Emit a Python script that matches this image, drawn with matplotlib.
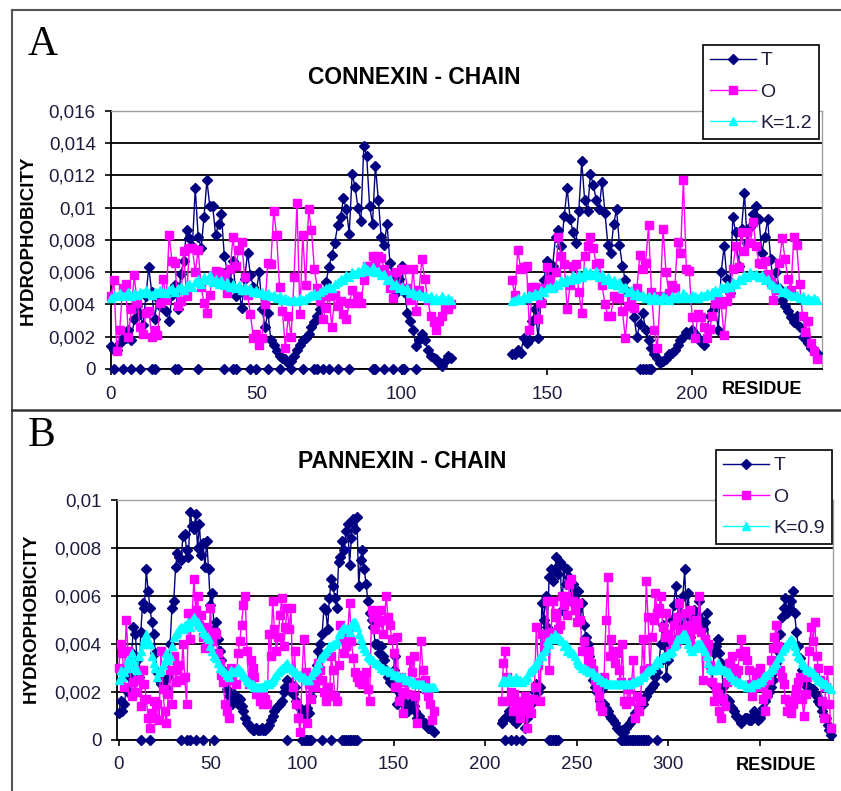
import numpy as np
import matplotlib
matplotlib.use("Agg")
import matplotlib.pyplot as plt
from matplotlib.lines import Line2D

plt.rcParams['font.family'] = ['Liberation Sans', 'DejaVu Sans']

# ---------------- DATA (hydrophobicity values in units of 1e-3) ----------------
# Panel A: CONNEXIN - CHAIN
A_seg1_start = 0
A_T1 = [1.4,1.2,1.2,1.6,1.9,1.9,2.4,1.8,3.1,3.9,3.4,2.7,4.5,6.3,4.8,3.1,4.4,3.9,4.2,3.6,
        3.0,4.6,5.2,3.7,5.9,6.7,8.6,8.1,7.6,11.2,8.2,7.5,9.4,11.7,10.1,10.1,8.3,9.0,9.6,7.0,
        6.1,5.4,6.7,4.5,4.9,3.8,5.6,7.2,5.8,5.1,4.8,6.0,3.7,2.6,3.5,1.8,1.5,1.1,0.8,0.7,
        0.6,0.4,0.5,0.8,1.2,1.5,1.8,1.9,2.2,2.6,2.9,3.3,3.7,4.6,5.4,6.3,7.1,7.8,8.9,9.4,
        10.6,9.9,8.4,12.1,11.3,10.0,9.2,13.8,13.2,10.1,9.0,12.6,10.5,8.2,7.7,9.0,6.6,5.6,4.7,5.6,
        6.4,4.8,3.5,3.0,2.4,1.4,1.8,2.2,1.8,1.2,0.8,0.7,0.6,0.4,0.2,0.5,0.8,0.7]
A_O1 = [4.5,5.5,1.1,2.4,5.0,5.3,2.0,3.7,5.8,4.1,2.6,2.2,3.5,3.6,2.0,2.4,2.1,4.1,5.6,4.3,
        8.3,6.7,6.6,3.9,4.2,7.3,4.5,7.5,7.5,6.0,7.4,5.1,4.1,3.5,4.6,5.8,6.1,6.0,5.5,5.9,
        4.7,6.2,8.2,6.4,7.4,7.9,5.7,4.6,3.4,1.9,2.2,1.5,1.9,4.0,6.6,6.5,9.8,8.3,5.1,3.6,
        1.3,3.3,2.0,5.7,10.3,3.4,8.3,5.2,9.9,8.6,6.2,5.0,4.2,3.1,3.8,4.5,2.6,4.6,3.9,4.2,
        3.4,3.1,4.1,4.9,4.1,4.5,4.1,5.5,6.4,6.1,7.0,6.6,7.0,6.9,6.2,5.8,5.0,4.4,6.0,5.1,
        6.2,6.2,5.0,4.3,6.2,3.6,4.9,6.8,5.6,4.3,3.3,2.9,2.4,3.0,3.3,3.7,3.7,4.0]
A_K1 = [4.4,4.6,4.5,4.7,4.5,4.6,4.8,4.5,4.7,4.6,4.8,4.7,4.9,4.7,4.6,4.8,4.7,4.9,4.8,4.7,
        4.9,5.0,4.8,5.0,5.1,4.9,5.2,5.3,5.1,5.4,5.6,5.3,5.7,5.5,5.8,5.4,5.6,5.3,5.5,5.2,
        5.4,5.1,5.3,5.0,5.2,4.9,5.1,4.9,5.0,4.8,4.9,4.7,4.8,4.6,4.7,4.5,4.6,4.4,4.5,4.3,
        4.4,4.3,4.2,4.3,4.2,4.4,4.3,4.4,4.5,4.6,4.7,4.6,4.8,4.9,5.0,5.1,5.0,5.3,5.4,5.6,
        5.5,5.8,5.7,6.0,5.9,6.1,6.0,6.4,6.2,6.1,6.3,6.0,6.1,5.8,5.9,5.5,5.6,5.2,5.3,5.0,
        5.1,4.9,5.0,4.7,4.8,4.6,4.7,4.5,4.6,4.4,4.5,4.3,4.4,4.3,4.5,4.3,4.4,4.3]
A_seg2_start = 138
A_T2 = [0.9,0.9,1.2,1.0,1.9,1.6,1.8,3.0,3.7,1.9,4.2,5.5,6.7,5.8,6.4,8.2,8.6,7.6,9.5,11.2,
        9.3,8.5,7.8,9.8,12.9,10.5,9.8,12.1,11.4,10.5,9.9,11.6,9.7,7.7,7.2,9.0,9.9,7.7,6.4,5.5,
        4.8,3.9,3.2,2.0,2.8,3.5,2.4,1.8,1.3,0.9,0.7,0.4,0.5,0.6,0.9,1.0,1.2,1.5,1.8,2.0,
        2.3,2.2,2.4,2.2,1.9,1.7,1.5,2.5,3.3,3.6,3.9,2.4,6.0,7.6,5.6,4.7,9.4,8.5,6.4,8.7,
        10.9,7.8,8.8,9.6,10.1,9.3,7.2,8.2,9.3,6.8,5.3,6.0,5.0,4.3,3.9,3.6,3.2,2.9,3.3,2.6,
        2.0,1.9,1.6,1.3,1.2,1.0]
A_O2 = [5.5,4.6,7.4,6.2,6.3,6.4,2.4,5.1,5.1,3.1,4.1,5.0,6.3,5.6,5.1,6.0,8.2,7.0,6.5,3.7,
        5.2,6.4,6.5,4.8,3.5,7.0,7.6,8.2,7.5,6.5,6.6,5.2,4.0,3.3,3.3,4.5,4.4,4.4,3.6,1.9,
        3.9,4.2,3.8,5.0,7.1,6.2,6.6,8.9,4.8,2.4,1.3,4.5,8.7,6.0,4.7,5.2,5.0,7.9,7.2,11.7,
        6.2,6.1,3.2,1.9,3.4,3.2,2.6,1.9,2.5,3.3,4.1,4.3,4.0,2.1,4.2,4.7,6.2,7.6,6.3,8.5,
        7.3,8.5,7.8,9.1,7.6,6.6,6.5,6.7,5.9,5.4,4.3,4.9,6.6,8.1,6.8,5.6,4.9,8.2,7.7,5.3,
        3.3,2.3,3.0,1.6,1.1,0.6]
A_K2 = [4.2,4.3,4.4,4.3,4.5,4.4,4.6,4.5,4.7,4.6,4.9,4.8,5.0,5.1,5.0,5.3,5.2,5.5,5.4,5.6,
        5.5,5.8,5.6,5.9,5.7,6.1,5.8,6.0,5.8,6.1,5.7,5.9,5.5,5.7,5.3,5.5,5.2,5.4,5.0,5.1,
        4.8,4.9,4.6,4.7,4.5,4.6,4.4,4.5,4.3,4.5,4.4,4.3,4.5,4.4,4.3,4.5,4.4,4.6,4.4,4.7,
        4.5,4.4,4.6,4.5,4.4,4.6,4.5,4.7,4.6,4.8,4.9,4.8,5.1,5.0,5.2,5.1,5.4,5.3,5.6,5.5,
        5.8,5.7,6.0,5.8,5.9,5.7,5.8,5.5,5.6,5.3,5.2,5.0,5.1,4.8,4.9,4.7,4.6,4.5,4.6,4.4,
        4.5,4.3,4.4,4.3,4.4,4.3]
A_T_zero_res = [1,4,7,10,14,15,22,23,30,39,42,43,48,50,54,58,62,66,70,71,73,75,78,82,
                90,91,94,97,100,101,105,182,183,184,185,186]

# Panel B: PANNEXIN - CHAIN
B_seg1_start = 0
B_T1 = [1.1,1.6,1.2,1.5,2.1,2.0,2.6,3.6,4.7,4.4,3.3,2.6,4.5,5.7,5.5,7.1,6.2,5.5,4.9,4.4,
        3.6,2.8,2.5,2.3,2.4,2.2,2.1,2.6,4.0,5.5,5.8,7.2,7.8,7.6,7.5,8.5,8.6,7.9,7.6,9.5,
        8.9,8.8,9.4,8.0,9.0,7.7,8.2,7.2,8.3,7.1,5.6,6.1,4.6,4.9,4.2,3.7,3.3,2.9,2.5,2.1,
        1.8,1.6,1.5,1.9,1.8,1.5,1.7,1.4,1.2,0.9,0.7,0.6,0.5,0.4,0.4,0.5,0.4,0.4,0.5,0.4,
        0.4,0.5,0.6,0.8,1.0,1.2,1.3,1.4,1.5,1.6,2.0,2.2,2.5,2.4,2.3,1.9,2.2,1.6,1.4,1.3,
        1.2,1.0,1.1,1.3,1.1,1.8,2.2,2.6,3.1,3.7,4.0,4.4,5.5,5.4,4.6,5.9,6.7,6.4,5.9,5.5,
        7.4,7.6,8.3,7.9,8.7,9.0,7.3,8.4,9.2,8.8,9.3,6.4,7.5,7.9,7.1,6.5,5.8,5.3,5.0,4.7,
        4.0,4.0,3.6,3.9,3.5,3.3,2.9,2.6,2.4,2.3,2.9,3.5,1.5,2.0,1.8,1.6,1.5,1.3,1.2,1.4,
        1.6,1.4,1.2,0.9,1.0,0.8,0.7,0.7,0.6,0.5,0.5,0.4,0.3]
B_O1 = [3.0,4.0,3.6,2.2,5.0,3.7,3.1,1.8,2.4,2.0,2.5,2.9,1.4,2.9,2.3,1.7,0.9,0.5,1.1,1.6,
        0.9,1.5,0.8,3.7,2.1,1.2,0.7,1.9,2.9,1.5,3.5,2.4,2.9,3.1,2.5,4.0,2.6,1.5,5.3,4.2,
        5.1,6.7,5.4,6.0,4.8,5.2,4.3,3.8,4.7,3.9,5.5,4.1,4.5,4.4,3.6,3.2,2.7,2.4,1.5,1.2,
        0.9,3.0,2.5,2.9,2.3,3.6,4.1,4.8,5.6,6.0,3.7,2.3,3.3,3.0,2.6,1.9,2.1,1.6,1.8,1.5,
        1.7,1.5,4.4,3.5,5.8,4.6,3.7,4.3,5.2,5.9,3.9,4.7,5.5,4.6,5.5,2.2,3.7,1.5,0.9,0.3,
        2.6,4.2,2.8,0.7,2.3,1.7,2.4,2.2,2.8,3.2,2.9,2.5,2.0,1.6,2.2,1.8,3.5,2.9,1.8,1.6,
        3.1,4.8,4.2,3.6,3.9,4.5,5.7,4.1,3.4,2.8,2.6,2.4,2.7,2.3,2.5,2.8,2.1,1.6,5.4,5.1,
        4.6,5.3,4.9,5.4,4.4,5.0,6.0,5.1,4.8,4.2,3.6,2.2,4.3,1.6,2.6,1.1,2.0,2.4,1.9,3.3,
        2.8,3.5,1.8,0.7,2.4,4.1,2.9,2.5,2.1,1.8,1.5,0.8,1.2]
B_K1 = [2.5,2.9,2.6,2.8,3.0,3.3,3.1,3.6,3.3,3.0,2.9,3.5,3.7,4.0,4.2,4.4,4.1,4.0,3.5,3.2,
        3.0,2.6,2.8,2.9,3.1,3.3,3.6,3.3,3.5,3.9,4.3,4.4,4.5,4.6,4.7,4.6,4.8,4.8,4.9,4.7,
        5.0,5.1,4.9,4.9,4.8,4.7,4.5,4.4,4.3,4.2,3.9,3.7,3.5,3.4,3.2,3.0,3.0,2.9,2.8,2.7,
        2.6,2.9,2.8,2.8,2.9,3.0,2.9,2.8,2.7,2.6,2.5,2.4,2.3,2.3,2.2,2.2,2.2,2.2,2.2,2.2,
        2.3,2.3,2.3,2.4,2.5,2.6,2.7,2.8,2.9,3.0,3.0,3.1,3.2,3.0,3.0,2.9,2.8,2.8,2.7,2.7,
        2.6,2.6,2.5,2.5,2.5,2.7,2.8,2.9,3.0,3.2,3.4,3.5,3.6,3.7,3.8,3.9,3.9,4.0,4.0,4.1,
        4.4,4.5,4.6,4.7,4.6,4.6,4.5,4.8,4.9,4.9,4.7,4.4,4.2,4.0,3.8,3.7,3.5,3.4,3.3,3.3,
        3.2,3.2,3.1,3.0,3.0,2.9,2.9,2.9,2.8,2.8,2.7,2.7,2.7,2.6,2.6,2.6,2.6,2.5,2.5,2.5,
        2.4,2.4,2.3,2.3,2.3,2.3,2.3,2.2,2.2,2.2,2.2,2.2,2.2]
B_seg2_start = 209
B_T2 = [0.7,0.8,0.9,1.0,1.2,1.0,0.8,0.9,0.7,1.1,1.4,1.3,1.2,0.5,0.9,1.4,1.5,1.6,2.0,2.3,
        2.0,2.2,5.7,5.0,6.0,4.7,6.8,7.1,6.6,7.1,7.6,6.9,7.4,5.4,7.2,6.5,7.1,6.8,5.8,6.5,
        6.1,5.4,6.2,5.0,5.7,4.8,4.3,4.0,3.5,2.8,2.5,2.2,2.0,2.1,1.6,2.1,1.5,1.3,1.2,1.0,
        0.9,0.8,0.7,0.5,0.4,0.3,0.4,0.3,0.5,0.6,0.7,0.8,0.9,1.1,1.2,1.4,1.5,1.5,1.7,1.8,
        2.0,2.1,2.2,2.3,2.6,2.8,3.2,4.0,4.8,3.9,2.6,3.3,4.2,5.0,5.6,6.4,5.7,4.9,5.3,6.0,
        7.1,5.1,6.1,4.3,4.9,5.4,4.7,5.2,5.8,5.0,4.6,4.9,5.3,4.0,3.1,2.3,3.6,3.9,4.2,3.6,
        3.2,2.2,1.5,1.7,1.6,1.4,1.3,1.2,1.0,0.9,0.8,0.7,0.8,0.9,0.9,0.8,0.8,1.0,1.2,1.0,
        0.8,0.9,1.1,1.3,1.6,1.8,2.0,2.2,2.5,2.8,3.2,3.7,4.4,5.1,5.5,5.9,5.3,5.5,5.8,6.2,
        5.3,4.5,3.9,3.4,2.9,2.6,2.3,2.2,2.2,2.1,2.1,1.9,1.8,1.6,1.5,1.2,1.0,0.9,0.6,0.4,
        0.2]
B_O2 = [1.6,3.2,3.7,2.6,1.6,2.0,1.2,1.9,1.6,1.3,0.9,1.2,1.5,1.8,0.5,1.4,1.1,1.7,2.2,4.7,
        3.1,1.6,4.4,3.9,4.4,5.8,2.9,4.5,5.8,5.3,5.1,4.6,4.8,6.0,5.6,6.0,5.2,6.5,6.7,5.8,
        5.4,4.9,5.7,5.0,3.7,4.1,3.7,3.3,3.7,3.2,2.9,2.5,2.2,1.8,1.4,1.2,2.6,5.0,6.8,3.5,
        4.2,3.7,3.2,3.6,2.9,2.4,4.0,1.6,1.5,2.1,1.6,2.4,3.3,0.9,1.8,1.2,1.6,4.2,2.9,6.6,
        5.1,3.0,4.3,5.0,6.1,5.3,5.5,6.0,4.7,4.3,5.3,4.4,3.7,4.2,4.8,4.0,5.1,5.7,4.4,4.6,
        5.3,4.8,4.3,5.4,4.6,3.9,5.0,4.6,6.0,4.5,2.5,4.2,3.7,4.0,3.1,2.4,1.6,2.2,1.9,1.2,
        0.9,1.7,1.4,2.4,3.2,3.2,3.5,3.0,2.6,2.9,3.6,4.2,3.5,3.7,3.3,2.9,2.3,1.8,2.2,2.6,
        2.8,3.0,2.2,1.7,1.2,1.9,2.5,3.3,3.8,4.3,4.8,3.9,2.9,2.6,2.3,1.7,1.2,1.6,1.1,1.5,
        1.8,2.1,2.4,2.6,1.7,1.0,1.9,2.6,3.7,4.7,4.1,4.9,3.5,3.0,2.5,1.6,0.9,2.2,2.9,1.5,
        0.5]
B_K2 = [2.4,2.5,2.5,2.4,2.6,2.5,2.5,2.4,2.6,2.5,2.5,2.4,2.5,2.5,2.6,2.8,2.9,3.0,3.1,3.2,
        3.3,3.5,3.5,3.7,3.8,4.1,4.0,4.3,4.2,4.4,4.3,4.3,4.2,4.1,3.9,4.0,3.7,3.8,3.6,3.6,
        3.5,3.3,3.2,3.1,3.0,3.0,2.9,2.9,2.8,2.8,2.8,2.7,2.6,2.6,2.5,2.5,2.4,2.4,2.3,2.3,
        2.3,2.3,2.3,2.3,2.3,2.3,2.3,2.3,2.3,2.3,2.3,2.4,2.4,2.4,2.5,2.5,2.6,2.6,2.7,2.8,
        2.9,2.9,3.0,3.1,3.2,3.3,3.2,3.4,3.5,3.5,3.5,3.6,3.6,3.7,3.9,4.0,4.2,4.2,4.3,4.4,
        4.4,4.2,4.0,3.8,3.7,3.8,3.9,4.0,4.0,4.0,3.8,3.7,3.5,3.2,3.0,2.9,2.9,3.0,3.2,3.1,
        3.0,2.9,2.9,2.8,2.8,2.7,2.6,2.5,2.5,2.4,2.4,2.3,2.3,2.3,2.2,2.2,2.2,2.3,2.3,2.3,
        2.4,2.4,2.5,2.6,2.7,2.7,2.8,2.9,3.0,3.1,3.2,3.4,3.5,3.7,3.8,3.9,4.0,4.1,4.2,4.1,
        3.9,3.7,3.5,3.4,3.2,3.1,3.0,2.9,2.9,2.8,2.8,2.7,2.6,2.5,2.5,2.4,2.3,2.3,2.2,2.2,
        2.1]
B_T_zero_res = [12,17,34,37,39,42,46,52,92,100,101,102,103,104,105,111,116,122,123,124,125,
                126,127,128,129,130,211,214,217,220,235,236,237,238,239,240,274,275,276,277,
                278,279,280,281,282,283,284,285,286,287,288,289,294]

UNIT = 1e-3
A_yticks = [0, 0.002, 0.004, 0.006, 0.008, 0.01, 0.012, 0.014, 0.016]
A_ylabels = ["0", "0,002", "0,004", "0,006", "0,008", "0,01", "0,012", "0,014", "0,016"]
B_yticks = [0, 0.002, 0.004, 0.006, 0.008, 0.01]
B_ylabels = ["0", "0,002", "0,004", "0,006", "0,008", "0,01"]
A_xticks = [0, 50, 100, 150, 200]
A_xlabels = ["0", "50", "100", "150", "200"]
B_xticks = [0, 50, 100, 150, 200, 250, 300, 350]
B_xlabels = ["0", "50", "100", "150", "200", "250", "300", ""]

# ---------------- STYLE ----------------
W, H = 841, 791
NAVY = "#000080"
MAG = "#FF00FF"
CYAN = "#00FFFF"
TXT = "#1c1c3c"

fig = plt.figure(figsize=(W / 100, H / 100), dpi=100)


def fx(px):
    return px / W


def fy(py):
    return 1 - py / H


def axes_px(l, t, r, b):
    return fig.add_axes([fx(l), fy(b), (r - l) / W, (b - t) / H])


def draw_panel(ax, segs, zeros, xlim, ylim, yticks, ylabels, xticks, xlabels):
    handles = []
    for key, color, mk, ms in [("T", NAVY, "D", 5.0), ("O", MAG, "s", 5.4), ("K", CYAN, "^", 6.4)]:
        for start, ser in segs[key]:
            xs = np.arange(start, start + len(ser))
            ys = np.asarray(ser) * UNIT
            ln, = ax.plot(xs, ys, color=color, lw=1.0, marker=mk, ms=ms,
                          mec=color, mfc=color, clip_on=False, zorder=3)
        if key == "T":
            ax.plot(zeros, np.zeros(len(zeros)), ls="none", marker="D", ms=5.0,
                    color=NAVY, clip_on=False, zorder=3)
        handles.append(ln)
    ax.set_xlim(*xlim)
    ax.set_ylim(*ylim)
    ax.set_yticks(yticks)
    ax.set_yticklabels(ylabels)
    ax.set_xticks(xticks)
    ax.set_xticklabels(xlabels)
    ax.yaxis.grid(True, color="black", lw=1.3, zorder=1)
    ax.set_axisbelow(True)
    for s in ["top", "right"]:
        ax.spines[s].set_color("#a0a0a0")
        ax.spines[s].set_linewidth(1.0)
    for s in ["left", "bottom"]:
        ax.spines[s].set_color("black")
        ax.spines[s].set_linewidth(1.3)
    ax.tick_params(axis="both", direction="out", length=4, width=1.2, colors="black",
                   labelcolor=TXT, labelsize=13.5)
    ax.tick_params(axis="y", pad=7)
    ax.tick_params(axis="x", pad=8)
    return handles


segsA = {"T": [(A_seg1_start, A_T1), (A_seg2_start, A_T2)],
         "O": [(A_seg1_start, A_O1), (A_seg2_start, A_O2)],
         "K": [(A_seg1_start, A_K1), (A_seg2_start, A_K2)]}
segsB = {"T": [(B_seg1_start, B_T1), (B_seg2_start, B_T2)],
         "O": [(B_seg1_start, B_O1), (B_seg2_start, B_O2)],
         "K": [(B_seg1_start, B_K1), (B_seg2_start, B_K2)]}

axA = axes_px(111, 111, 822, 369)
hA = draw_panel(axA, segsA, A_T_zero_res, (0, 244.7), (0, 0.016),
                A_yticks, A_ylabels, A_xticks, A_xlabels)
axB = axes_px(117, 500, 833, 739.5)
hB = draw_panel(axB, segsB, B_T_zero_res, (-1, 390), (0, 0.01),
                B_yticks, B_ylabels, B_xticks, B_xlabels)

# panel frames
fig.add_artist(Line2D([fx(12), fx(841)], [fy(10), fy(10)], color="#555555", lw=1.5))
fig.add_artist(Line2D([fx(12), fx(12)], [fy(10), fy(791)], color="#555555", lw=1.5))
fig.add_artist(Line2D([fx(12), fx(841)], [fy(410), fy(410)], color="#333333", lw=1.8))

# panel letters and titles
fig.text(fx(28), fy(45), "A", family=["Liberation Serif"], fontsize=30, va="center", ha="left")
fig.text(fx(28), fy(436), "B", family=["Liberation Serif"], fontsize=30, va="center", ha="left")
fig.text(fx(414), fy(77), "CONNEXIN - CHAIN", fontsize=16.5, fontweight="bold", ha="center", va="center")
fig.text(fx(402), fy(462), "PANNEXIN - CHAIN", fontsize=16.5, fontweight="bold", ha="center", va="center")

# axis titles
fig.text(fx(28), fy(240), "HYDROPHOBICITY", rotation=90, fontsize=13.5, fontweight="bold",
         ha="center", va="center")
fig.text(fx(31), fy(618), "HYDROPHOBICITY", rotation=90, fontsize=13.5, fontweight="bold",
         ha="center", va="center")
fig.text(fx(762), fy(390), "RESIDUE", fontsize=13, fontweight="bold", ha="center", va="center")
fig.text(fx(776), fy(766), "RESIDUE", fontsize=13, fontweight="bold", ha="center", va="center")

# legends
for handles, labels, (lx, ly) in [(hA, ["T", "O", "K=1.2"], (703, 45)),
                                  (hB, ["T", "O", "K=0.9"], (716, 450))]:
    leg = fig.legend(handles, labels, loc="upper left", bbox_to_anchor=(fx(lx), fy(ly)),
                     frameon=True, fancybox=False, edgecolor="black", framealpha=1,
                     fontsize=14, handlelength=2.4, handletextpad=0.2, borderpad=0.35,
                     labelspacing=0.7, borderaxespad=0)
    leg.get_frame().set_linewidth(1.2)
    for t in leg.get_texts():
        t.set_color(TXT)

fig.savefig("out.png", dpi=100)
